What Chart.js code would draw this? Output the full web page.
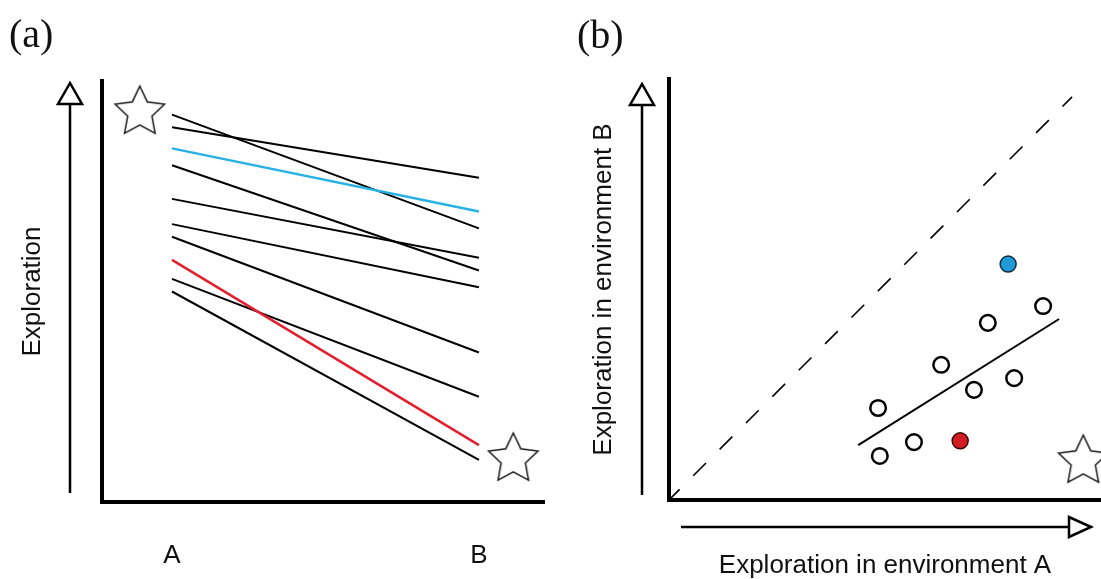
<!DOCTYPE html>
<html>
<head>
<meta charset="utf-8">
<title>Exploration in environments A and B</title>
<script src="https://cdn.jsdelivr.net/npm/chart.js@4"></script>
<style>
  body { margin: 0; background: #fff; }
  canvas { position: absolute; top: 0; }
  #chartA { left: 0; }
  #chartB { left: 551px; }
</style>
</head>
<body>
<canvas id="chartA" width="550" height="579"></canvas>
<canvas id="chartB" width="550" height="579"></canvas>
<script>
// (a) each individual's exploration score in environment A and in environment B
var groups = ['A', 'B'];
var groupPos = [0, 1];
var exploreA = [92, 89, 84, 80, 72, 66, 63, 57.5, 53, 50];
var exploreB = [65, 77, 69, 55, 58, 51, 35.5, 13.5, 25, 10];
var blueIndex = 2;
var redIndex = 7;
var starsA = [{x: -0.105, y: 92.6}, {x: 1.112, y: 10.2}];

// (b) the same individuals, environment A against environment B
var envA = [48.8, 56.7, 48.4, 63.0, 70.6, 79.9, 73.8, 86.6];
var envB = [10.2, 13.4, 21.3, 31.3, 25.5, 28.2, 41.0, 44.9];
var redPoint = [67.4, 13.7];
var bluePoint = [78.5, 54.6];
var fitX = [43.8, 90.3];
var fitY = [12.7, 41.9];
var diagonal = [0, 93.3];
var starsB = [{x: 95.9, y: 9.0}];

var BLUE = '#27b1e4';
var RED = '#e2202e';

Chart.defaults.font.family = '"Liberation Sans", Arial, sans-serif';
Chart.defaults.color = '#111';

// hollow five-pointed star used as a point style
function makeStar(r) {
  var c = document.createElement('canvas');
  var size = Math.ceil(2 * r + 4);
  c.width = c.height = size;
  var ctx = c.getContext('2d');
  ctx.translate(size / 2, size / 2);
  ctx.beginPath();
  for (var i = 0; i < 10; i++) {
    var rad = i % 2 ? r * 0.49 : r;
    var a = -Math.PI / 2 + i * Math.PI / 5;
    ctx.lineTo(rad * Math.cos(a), rad * Math.sin(a));
  }
  ctx.closePath();
  ctx.fillStyle = '#fff';
  ctx.fill();
  ctx.lineWidth = 1.5;
  ctx.strokeStyle = '#1a1a1a';
  ctx.stroke();
  return c;
}
var star = makeStar(26);

// open-headed arrows drawn beside the axes
var axisArrows = {
  id: 'axisArrows',
  afterDraw: function (chart, args, opts) {
    var a = chart.chartArea, ctx = chart.ctx;
    ctx.save();
    ctx.strokeStyle = '#000';
    ctx.fillStyle = '#fff';
    ctx.lineWidth = 2.5;
    if (opts.y) {
      var x = a.left - opts.y.gap, tip = a.top + opts.y.top, base = tip + 21;
      ctx.beginPath();
      ctx.moveTo(x, a.bottom - opts.y.bottom);
      ctx.lineTo(x, base);
      ctx.stroke();
      ctx.beginPath();
      ctx.moveTo(x, tip);
      ctx.lineTo(x - 12, base);
      ctx.lineTo(x + 12, base);
      ctx.closePath();
      ctx.fill();
      ctx.stroke();
    }
    if (opts.x) {
      var y = a.bottom + opts.x.gap, tipX = a.right - opts.x.end, baseX = tipX - 22;
      ctx.beginPath();
      ctx.moveTo(a.left + opts.x.start, y);
      ctx.lineTo(baseX, y);
      ctx.stroke();
      ctx.beginPath();
      ctx.moveTo(tipX, y);
      ctx.lineTo(baseX, y - 10);
      ctx.lineTo(baseX, y + 10);
      ctx.closePath();
      ctx.fill();
      ctx.stroke();
    }
    ctx.restore();
  }
};

function titleFont(size) {
  return {size: size, lineHeight: 1};
}

// ---- panel (a) ----
var lineSets = exploreA.map(function (v, i) {
  var hl = i === blueIndex || i === redIndex;
  return {
    data: [{x: groupPos[0], y: v}, {x: groupPos[1], y: exploreB[i]}],
    showLine: true,
    borderColor: i === blueIndex ? BLUE : i === redIndex ? RED : '#000',
    borderWidth: hl ? 2.5 : 2,
    pointRadius: 0,
    order: hl ? 0 : 1
  };
});
lineSets.push({
  data: starsA,
  pointStyle: star,
  pointRadius: 26,
  clip: false,
  order: -1
});

new Chart(document.getElementById('chartA'), {
  type: 'scatter',
  data: {datasets: lineSets},
  options: {
    responsive: false,
    animation: false,
    events: [],
    layout: {autoPadding: false, padding: {left: 9, right: 6, top: 0, bottom: 0}},
    plugins: {
      legend: {display: false},
      tooltip: {enabled: false},
      title: {
        display: true,
        text: '(a)',
        align: 'start',
        color: '#111',
        font: {family: '"Liberation Serif", "Times New Roman", serif', size: 40, weight: 'normal', lineHeight: 1.2},
        padding: {top: 12, bottom: 21}
      },
      axisArrows: {y: {gap: 32, top: 2, bottom: 9}}
    },
    scales: {
      x: {
        type: 'linear',
        min: -0.228,
        max: 1.212,
        grid: {display: false, drawTicks: false},
        border: {display: true, width: 4, color: '#000'},
        afterBuildTicks: function (scale) {
          scale.ticks = groupPos.map(function (v) { return {value: v}; });
        },
        ticks: {
          padding: 41,
          font: titleFont(26),
          callback: function (v) { return groups[groupPos.indexOf(v)]; }
        },
        afterFit: function (scale) { scale.height = 77; }
      },
      y: {
        min: 0,
        max: 100,
        grid: {display: false, drawTicks: false},
        border: {display: true, width: 4, color: '#000'},
        ticks: {display: false},
        title: {display: true, text: 'Exploration', font: titleFont(26), padding: {top: 11, bottom: 0}},
        afterFit: function (scale) { scale.width = 93; }
      }
    }
  },
  plugins: [axisArrows]
});

// ---- panel (b) ----
var hollow = envA.map(function (v, i) { return {x: v, y: envB[i]}; });

new Chart(document.getElementById('chartB'), {
  type: 'scatter',
  data: {
    datasets: [
      {
        data: starsB,
        pointStyle: star,
        pointRadius: 26,
        clip: false
      },
      {
        data: [{x: redPoint[0], y: redPoint[1]}],
        pointRadius: 8,
        backgroundColor: '#d21d24',
        borderColor: '#3a0808',
        borderWidth: 1.5
      },
      {
        data: [{x: bluePoint[0], y: bluePoint[1]}],
        pointRadius: 8,
        backgroundColor: '#1f9ad6',
        borderColor: '#0d2b42',
        borderWidth: 1.5
      },
      {
        data: hollow,
        pointRadius: 7.8,
        backgroundColor: '#fff',
        borderColor: '#000',
        borderWidth: 2.5
      },
      {
        data: [{x: fitX[0], y: fitY[0]}, {x: fitX[1], y: fitY[1]}],
        showLine: true,
        borderColor: '#000',
        borderWidth: 2,
        pointRadius: 0
      },
      {
        // x = y reference line
        data: [{x: diagonal[0], y: diagonal[0]}, {x: diagonal[1], y: diagonal[1]}],
        showLine: true,
        borderColor: '#000',
        borderWidth: 1.6,
        borderDash: [18, 19.3],
        borderDashOffset: 3,
        pointRadius: 0
      }
    ]
  },
  options: {
    responsive: false,
    animation: false,
    events: [],
    layout: {autoPadding: false, padding: {left: 26, right: 0, top: 0, bottom: 0}},
    plugins: {
      legend: {display: false},
      tooltip: {enabled: false},
      title: {
        display: true,
        text: '(b)',
        align: 'start',
        color: '#111',
        font: {family: '"Liberation Serif", "Times New Roman", serif', size: 40, weight: 'normal', lineHeight: 1.2},
        padding: {top: 13.5, bottom: 17.5}
      },
      axisArrows: {
        y: {gap: 27, top: 5, bottom: 5},
        x: {gap: 27, start: 12, end: 10}
      }
    },
    scales: {
      x: {
        type: 'linear',
        min: 0,
        max: 100,
        grid: {display: false, drawTicks: false},
        border: {display: true, width: 4, color: '#000'},
        ticks: {display: false},
        title: {display: true, text: 'Exploration in environment A', font: titleFont(26), padding: {top: 0, bottom: 0}},
        afterFit: function (scale) { scale.height = 79; }
      },
      y: {
        min: 0,
        max: 97.45,
        grid: {display: false, drawTicks: false},
        border: {display: true, width: 4, color: '#000'},
        ticks: {display: false},
        title: {display: true, text: 'Exploration in environment B', font: titleFont(26), padding: {top: 14, bottom: 0}},
        afterFit: function (scale) { scale.width = 92; }
      }
    }
  },
  plugins: [axisArrows]
});
</script>
</body>
</html>
